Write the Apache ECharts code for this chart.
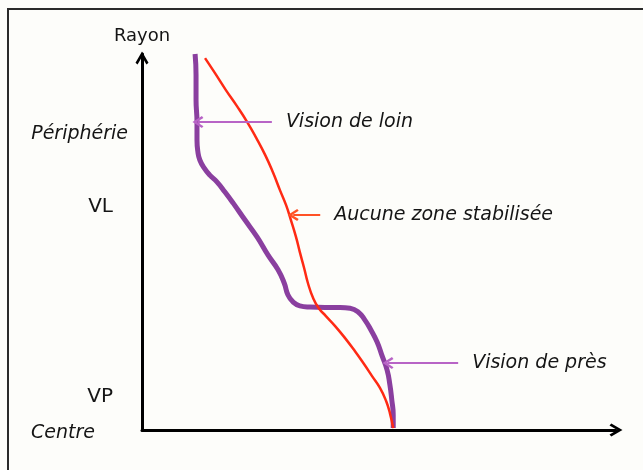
<!DOCTYPE html>
<html>
<head>
<meta charset="utf-8">
<script src="https://cdn.jsdelivr.net/npm/echarts@6/dist/echarts.min.js"></script>
<style>html,body{margin:0;padding:0;background:#fff;}#c{width:643px;height:470px;}</style>
</head>
<body>
<div id="c"></div>
<script>
// ---- data (x: relative horizontal position, y: Rayon from Centre 0 to Périphérie 100) ----
const visionProgressive = [
  [11.2,100],[11.4,94.4],[11.4,87.8],[11.6,81.9],[11.6,77.1],[11.8,73.9],[12.2,71.8],
  [13.1,69.7],[14.3,67.8],[15.8,66.0],[17.5,63.3],[19.2,60.4],[21.7,55.9],[24.3,51.3],
  [26.6,46.5],[28.7,42.6],[30.0,39.1],[30.8,35.9],[31.9,34.0],[33.3,33.0],[35.4,32.7],
  [38.6,32.6],[41.8,32.6],[43.9,32.4],[45.6,31.4],[47.0,29.3],[48.3,26.6],[49.6,23.4],
  [50.6,19.9],[51.7,16.0],[52.3,12.0],[52.7,8.0],[53.0,4.0],[53.0,0.5]
];
const aucuneZone = [
  [13.3,98.9],[15.4,94.9],[17.7,90.4],[20.0,86.2],[22.2,81.9],[24.1,77.7],[26.0,73.1],
  [27.6,68.6],[29.1,63.8],[30.4,59.8],[31.4,55.9],[32.5,51.3],[33.3,47.3],[34.2,43.1],
  [35.0,39.1],[36.1,35.1],[37.3,32.4],[38.8,30.3],[40.7,27.7],[42.8,24.5],[44.9,21.0],
  [46.8,17.6],[48.5,14.4],[50.2,11.2],[51.5,7.7],[52.3,4.5],[53.0,0.5]
];
const yTickLabels = ['Périphérie', 'VL', 'VP', 'Centre'];
const yTickValues = [78.7, 59.3, 8.8, 0];
const annotationTexts = ['Vision de loin', 'Aucune zone stabilisée', 'Vision de près'];
const annotationFrom = [[27.4,81.9],[37.6,57.2],[66.7,17.8]];
const annotationTo = [[11.8,81.9],[31.9,57.2],[51.9,17.8]];
const axisName = 'Rayon';

// ---- styling ----
const FONT = 'DejaVu Sans';
const chevron = 'path://M5,0 L10,8.6 L8.4,10 L5,4 L1.6,10 L0,8.6 Z';
const richKeys = ['peri', 'vl', 'vp', 'centre'];

const chart = echarts.init(document.getElementById('c'), null, {renderer: 'canvas'});

function arrow(i) {
  return [
    {coord: annotationFrom[i], name: annotationTexts[i]},
    {coord: annotationTo[i]}
  ];
}

chart.setOption({
  animation: false,
  backgroundColor: '#fdfdfa',
  grid: {left: 142, top: 54, right: 27, bottom: 40},
  xAxis: {
    type: 'value', min: 0, max: 100,
    axisLine: {show: true, onZero: false, lineStyle: {color: '#000', width: 3},
      symbol: ['none', chevron], symbolSize: [15, 13], symbolOffset: [0, 0]},
    axisTick: {show: false}, axisLabel: {show: false}, splitLine: {show: false}
  },
  yAxis: {
    type: 'value', min: 0, max: 100,
    name: axisName, nameLocation: 'end', nameGap: 9,
    nameTextStyle: {fontFamily: FONT, fontSize: 18, color: '#151515', align: 'center', verticalAlign: 'bottom'},
    axisLine: {show: true, onZero: false, lineStyle: {color: '#000', width: 3},
      symbol: ['none', chevron], symbolSize: [15, 13], symbolOffset: [0, -4]},
    axisTick: {show: false},
    splitLine: {show: false},
    axisLabel: {
      show: true, margin: 14, customValues: yTickValues,
      formatter: function (v) {
        const i = yTickValues.indexOf(v);
        if (i < 0) return '';
        return '{' + richKeys[i] + '|' + yTickLabels[i] + '}';
      },
      rich: {
        peri: {fontFamily: FONT, fontSize: 19, fontStyle: 'italic', color: '#151515'},
        vl: {fontFamily: FONT, fontSize: 20, color: '#151515', padding: [0, 15, 0, 0]},
        vp: {fontFamily: FONT, fontSize: 20, color: '#151515', padding: [0, 15, 0, 0]},
        centre: {fontFamily: FONT, fontSize: 19, fontStyle: 'italic', color: '#151515', padding: [6, 33, 0, 0]}
      }
    }
  },
  graphic: [
    {type: 'rect', silent: true, shape: {x: 8, y: 9, width: 700, height: 520},
     style: {fill: null, stroke: '#2a2a2a', lineWidth: 2}}
  ],
  series: [
    {
      name: 'Vision progressive', type: 'line', data: visionProgressive,
      smooth: 0.5, showSymbol: false, clip: false,
      lineStyle: {color: '#8a3f9f', width: 5, cap: 'butt'},
      z: 3,
      markLine: {
        silent: true, animation: false,
        symbol: ['none', chevron], symbolSize: [12, 11],
        lineStyle: {color: '#b864c6', width: 2, type: 'solid'},
        label: {show: true, position: 'start', distance: 14, formatter: '{b}',
          fontFamily: FONT, fontSize: 19, fontStyle: 'italic', color: '#151515'},
        data: [arrow(0), arrow(2)]
      }
    },
    {
      name: 'Aucune zone stabilisée', type: 'line', data: aucuneZone,
      smooth: 0.5, showSymbol: false, clip: false,
      lineStyle: {color: '#ff2a14', width: 2.5},
      z: 4,
      markLine: {
        silent: true, animation: false,
        symbol: ['none', chevron], symbolSize: [12, 11],
        lineStyle: {color: '#ff5226', width: 2, type: 'solid'},
        label: {show: true, position: 'start', distance: 14, formatter: '{b}',
          fontFamily: FONT, fontSize: 19, fontStyle: 'italic', color: '#151515'},
        data: [arrow(1)]
      }
    }
  ]
});
</script>
</body>
</html>
